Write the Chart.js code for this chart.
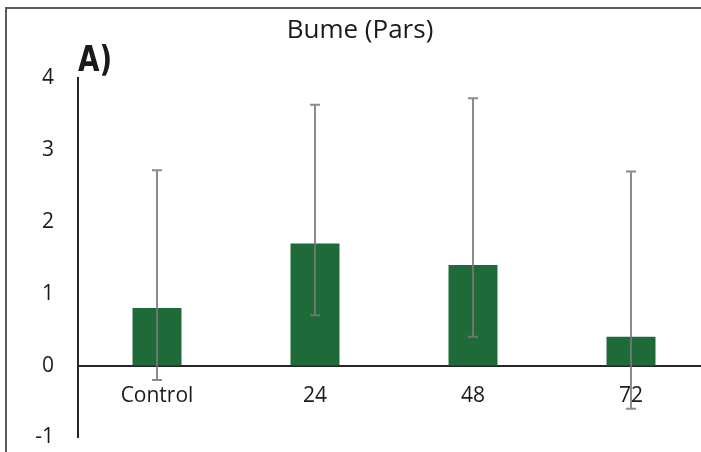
<!DOCTYPE html>
<html>
<head>
<meta charset="utf-8">
<script src="https://cdn.jsdelivr.net/npm/chart.js@4"></script>
<style>
  html, body { margin: 0; padding: 0; background: #fff; overflow: hidden; }
  .wrap { position: relative; width: 701px; height: 452px; overflow: hidden; }
  .frame {
    position: absolute; left: 5px; top: 7px; width: 900px; height: 600px;
    border-left: 2px solid #5a5a5a; border-top: 2px solid #5a5a5a;
  }
  .chart { position: absolute; left: 0; top: 0; width: 710px; height: 474px; }
  .panel {
    position: absolute; left: 78px; top: 39px;
    font-family: "Liberation Sans Narrow", "DejaVu Sans Condensed", sans-serif;
    font-weight: bold; font-size: 35px; color: #1a1a1a;
    transform: scaleX(0.88); transform-origin: left top;
  }
</style>
</head>
<body>
<div class="wrap">
  <div class="frame"></div>
  <div class="chart"><canvas id="c" width="710" height="474"></canvas></div>
  <div class="panel">A)</div>
</div>
<script>
const categories = ["Control", "24", "48", "72"];
const means = [0.8, 1.7, 1.4, 0.4];
const errUp = [1.92, 1.93, 2.32, 2.3];
const errDown = [1.0, 1.0, 1.0, 1.0];
const yTicks = [-1, 0, 1, 2, 3, 4];

// error bars drawn from the scales
const errorBars = {
  id: "errorBars",
  afterDatasetsDraw(chart) {
    const ctx = chart.ctx;
    const meta = chart.getDatasetMeta(0);
    const y = chart.scales.y;
    ctx.save();
    ctx.strokeStyle = "rgba(120,120,120,0.85)";
    ctx.lineWidth = 2;
    meta.data.forEach((bar, i) => {
      const top = y.getPixelForValue(means[i] + errUp[i]);
      const bot = y.getPixelForValue(means[i] - errDown[i]);
      ctx.beginPath();
      ctx.moveTo(bar.x, top);
      ctx.lineTo(bar.x, bot);
      ctx.moveTo(bar.x - 5, top);
      ctx.lineTo(bar.x + 5, top);
      ctx.moveTo(bar.x - 5, bot);
      ctx.lineTo(bar.x + 5, bot);
      ctx.stroke();
    });
    ctx.restore();
  }
};

new Chart(document.getElementById("c"), {
  type: "bar",
  data: {
    labels: categories,
    datasets: [{
      data: means,
      backgroundColor: "#1e6b39",
      borderWidth: 0,
      barPercentage: 0.31,
      categoryPercentage: 1
    }]
  },
  options: {
    responsive: false,
    animation: false,
    layout: { padding: { left: 10, right: 0, top: 0, bottom: 16 } },
    plugins: {
      legend: { display: false },
      tooltip: { enabled: false },
      title: {
        display: true,
        text: "Bume (Pars)",
        color: "#1a1a1a",
        font: { family: "Open Sans", size: 26, weight: "normal" },
        padding: { top: 15, bottom: 32 }
      }
    },
    scales: {
      x: {
        position: { y: 0 },
        grid: { display: false, drawTicks: false },
        border: { display: true, color: "#262626", width: 2 },
        ticks: {
          color: "#1a1a1a",
          padding: 18,
          font: { family: "Open Sans", size: 21 }
        }
      },
      y: {
        min: -1,
        max: 4,
        afterBuildTicks(scale) { scale.ticks = yTicks.map(v => ({ value: v })); },
        afterFit(scale) { scale.width = 68; },
        grid: { display: false, drawTicks: false },
        border: { display: true, color: "#262626", width: 2 },
        ticks: {
          color: "#1a1a1a",
          padding: 24,
          font: { family: "Open Sans", size: 21 }
        }
      }
    }
  },
  plugins: [errorBars]
});
</script>
</body>
</html>
